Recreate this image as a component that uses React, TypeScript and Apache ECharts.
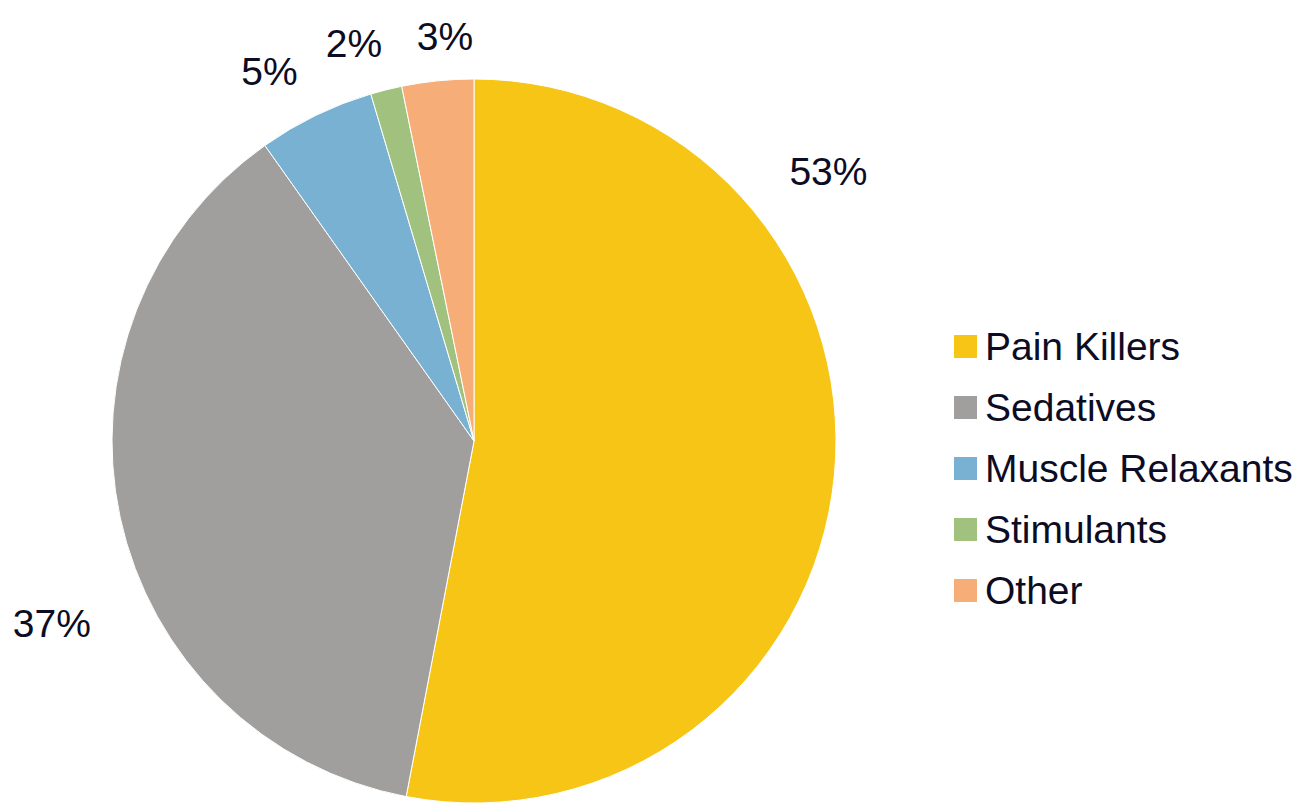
import React, { useEffect, useRef } from "react";
import * as echarts from "echarts";

const categories = ["Pain Killers", "Sedatives", "Muscle Relaxants", "Stimulants", "Other"];
const values = [53.0, 37.2, 5.2, 1.4, 3.2];
const valueLabels = ["53%", "37%", "5%", "2%", "3%"];
const colors = ["#F6C516", "#A09F9D", "#79B1D2", "#A0C27E", "#F7AD78"];

// label placement (best-fit style): angle clockwise from top in degrees, distance from center in px
const labelAngles = [52.8, 246.6, 331, 343.2, 355.9];
const labelDists = [445, 460, 422, 415, 406];

const CX = 474;
const CY = 441;
const R = 362;
const TEXT = "#0c0c24";
const FONT = "'Liberation Sans', Arial, sans-serif";

export default function App() {
  const ref = useRef<HTMLDivElement>(null);
  useEffect(() => {
    if (!ref.current) return;
    const chart = echarts.init(ref.current, undefined, { renderer: "svg" });
    chart.setOption({
      animation: false,
      backgroundColor: "#ffffff",
      legend: {
        orient: "vertical",
        left: 947,
        top: 322,
        icon: "rect",
        itemWidth: 25,
        itemHeight: 25,
        itemGap: 22,
        data: categories,
        textStyle: {
          color: TEXT,
          fontSize: 39,
          lineHeight: 39,
          fontFamily: FONT,
          padding: [0, 0, 0, 2],
        },
      },
      series: [
        {
          type: "pie",
          center: [CX, CY],
          radius: R,
          startAngle: 90,
          clockwise: true,
          avoidLabelOverlap: false,
          itemStyle: { borderColor: "#ffffff", borderWidth: 1 },
          label: {
            show: true,
            position: "outside",
            color: TEXT,
            fontSize: 39,
            fontFamily: FONT,
            formatter: (p: any) => valueLabels[p.dataIndex],
          },
          labelLine: { show: false },
          labelLayout: (p: any) => {
            const a = (labelAngles[p.dataIndex] * Math.PI) / 180;
            const d = labelDists[p.dataIndex];
            return {
              x: CX + d * Math.sin(a),
              y: CY - d * Math.cos(a),
              align: "center",
              verticalAlign: "middle",
            };
          },
          data: categories.map((c, i) => ({
            name: c,
            value: values[i],
            itemStyle: { color: colors[i] },
          })),
        },
      ],
    });
    return () => chart.dispose();
  }, []);
  return (
    <div
      ref={ref}
      style={{ position: "fixed", left: 0, top: 0, width: 1299, height: 804, background: "#fff" }}
    />
  );
}
